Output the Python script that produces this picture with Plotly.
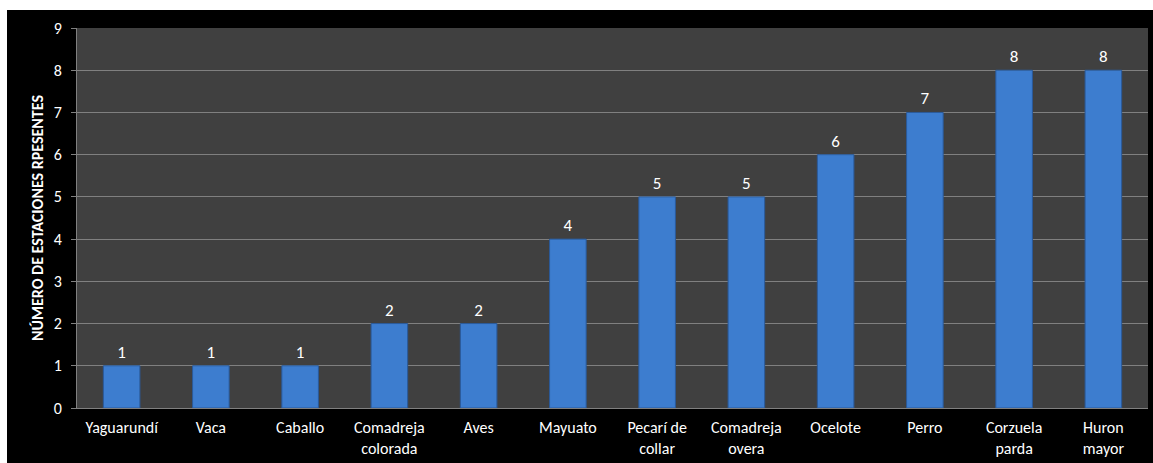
import plotly.graph_objects as go

categories = ["Yaguarundí", "Vaca", "Caballo", "Comadreja<br>colorada", "Aves", "Mayuato",
              "Pecarí de<br>collar", "Comadreja<br>overa", "Ocelote", "Perro", "Corzuela<br>parda", "Huron<br>mayor"]
values = [1, 1, 1, 2, 2, 4, 5, 5, 6, 7, 8, 8]
y_ticks = [0, 1, 2, 3, 4, 5, 6, 7, 8, 9]
y_title = "NÚMERO DE ESTACIONES RPESENTES"

FONT = "Carlito, Calibri, Lato, sans-serif"

fig = go.Figure()
fig.add_trace(go.Bar(
    x=categories, y=values,
    width=0.41,
    marker=dict(color="#3d7dcf", line=dict(color="#2a5a9a", width=1)),
    text=[str(v) for v in values], textposition="outside",
    textfont=dict(color="white", size=17, family=FONT),
    cliponaxis=False,
))

L, R, T, B = 77, 5, 28, 55
W, H = 1153, 463
pw, ph = W - L - R, H - T - B

fig.update_layout(
    width=W, height=H,
    margin=dict(l=L, r=R, t=T, b=B),
    paper_bgcolor="black",
    plot_bgcolor="#404040",
    showlegend=False,
    font=dict(family=FONT, color="white", size=16),
    shapes=[
        dict(type="rect", xref="paper", yref="paper", layer="below",
             x0=-(L + 5) / pw, x1=(W + 5 - L) / pw,
             y0=(ph + T - 10) / ph, y1=(ph + T + 5) / ph,
             fillcolor="white", line=dict(width=0)),
        dict(type="rect", xref="paper", yref="paper", layer="below",
             x0=-(L + 5) / pw, x1=-(L - 7) / pw,
             y0=-(B + 5) / ph, y1=(ph + T + 5) / ph,
             fillcolor="white", line=dict(width=0)),
    ],
)
fig.update_yaxes(
    range=[0, 9], tickvals=y_ticks,
    showgrid=True, gridcolor="#808080", gridwidth=1,
    ticks="outside", ticklen=5, tickcolor="#808080",
    ticklabelstandoff=6,
    tickfont=dict(color="white", size=16, family=FONT),
    title=dict(text="<b>" + y_title + "</b>", font=dict(color="white", size=16, family=FONT), standoff=6),
    zeroline=False, showline=True, linecolor="#808080",
)
fig.update_xaxes(
    tickfont=dict(color="white", size=16, family=FONT),
    showline=True, linecolor="#808080", ticks="", tickangle=0,
    ticklabelstandoff=5,
)

fig.write_html("out.html")
